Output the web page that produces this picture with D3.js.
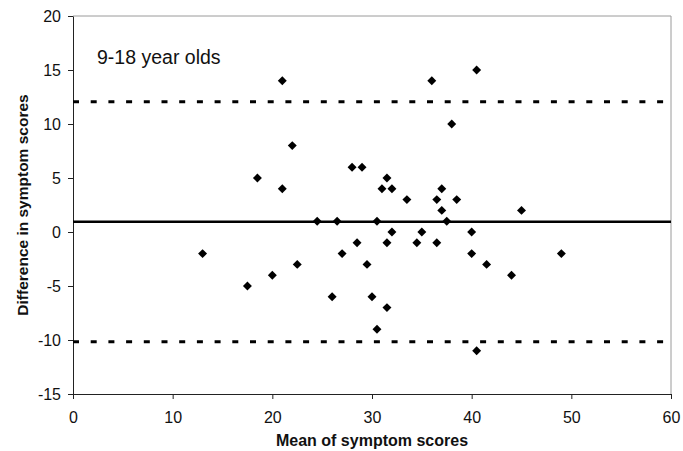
<!DOCTYPE html>
<html>
<head>
<meta charset="utf-8">
<script src="https://cdn.jsdelivr.net/npm/d3@7"></script>
<style>
  html, body { margin: 0; padding: 0; background: #fff; }
  svg { display: block; font-family: "Liberation Sans", Arial, sans-serif; }
</style>
</head>
<body>
<svg id="chart" width="683" height="451"></svg>
<script>
// mean of the two scores (x) and their difference (y), one per child
const meanScores = [13, 17.5, 18.5, 20, 21, 21, 22, 22.5, 24.5, 26, 26.5, 27, 28, 28.5, 29,
                    29.5, 30, 30.5, 30.5, 31, 31.5, 31.5, 31.5, 32, 32, 33.5, 34.5, 35, 36,
                    36.5, 36.5, 37, 37, 37.5, 38, 38.5, 40, 40, 40.5, 40.5, 41.5, 44, 45, 49]
const diffScores = [-2, -5, 5, -4, 14, 4, 8, -3, 1, -6, 1, -2, 6, -1, 6,
                    -3, -6, 1, -9, 4, 5, -1, -7, 4, 0, 3, -1, 0, 14,
                    3, -1, 4, 2, 1, 10, 3, 0, -2, 15, -11, -3, -4, 2, -2]

// mean difference and limits of agreement
const meanDiff = 0.95
const limits = [12.07, -10.17]

const xTicks = [0, 10, 20, 30, 40, 50, 60]
const yTicks = [20, 15, 10, 5, 0, -5, -10, -15]

const plotLeft = 73, plotRight = 671, plotTop = 16, plotBottom = 394

const svg = d3.select("#chart")

const x = d3.scaleLinear().domain([0, 60]).range([plotLeft, plotRight])
const y = d3.scaleLinear().domain([-15, 20]).range([plotBottom, plotTop])

// light frame on top and right
svg.append("path")
   .attr("d", `M${plotLeft},${plotTop}H${plotRight}V${plotBottom}`)
   .attr("fill", "none")
   .attr("stroke", "#9a9a9a")
   .attr("stroke-width", 1)

// axes (plain hyphen for negatives, like the original)
const plain = d => String(d)
const xAxis = svg.append("g")
   .attr("transform", `translate(0,${plotBottom})`)
   .call(d3.axisBottom(x).tickValues(xTicks).tickFormat(plain).tickSize(5).tickPadding(13).tickSizeOuter(0))
const yAxis = svg.append("g")
   .attr("transform", `translate(${plotLeft},0)`)
   .call(d3.axisLeft(y).tickValues(yTicks).tickFormat(plain).tickSize(5).tickPadding(7).tickSizeOuter(0))

;[xAxis, yAxis].forEach(g => {
	g.select(".domain").attr("stroke", "#222").attr("stroke-width", 1)
	g.selectAll(".tick line").attr("stroke", "#222")
	g.selectAll(".tick text")
	 .attr("fill", "#111")
	 .style("font-size", "16px")
	 .style("font-family", "Liberation Sans, Arial, sans-serif")
})

// reference lines
svg.append("line")
   .attr("x1", x(0)).attr("x2", x(60))
   .attr("y1", y(meanDiff)).attr("y2", y(meanDiff))
   .attr("stroke", "#000")
   .attr("stroke-width", 2.5)

svg.selectAll(".limit")
   .data(limits)
   .join("line")
   .attr("class", "limit")
   .attr("x1", x(0)).attr("x2", x(60))
   .attr("y1", d => y(d)).attr("y2", d => y(d))
   .attr("stroke", "#000")
   .attr("stroke-width", 3)
   .attr("stroke-dasharray", "6,11.7")

// points as diamonds
const diamond = d3.symbol().type(d3.symbolSquare).size(40)
svg.selectAll(".pt")
   .data(d3.zip(meanScores, diffScores))
   .join("path")
   .attr("class", "pt")
   .attr("d", diamond)
   .attr("transform", d => `translate(${x(d[0])},${y(d[1])}) rotate(45)`)
   .attr("fill", "#000")

// panel label
svg.append("text")
   .attr("x", 97)
   .attr("y", 64)
   .style("font-size", "19.5px")
   .attr("fill", "#111")
   .text("9-18 year olds")

// axis titles
svg.append("text")
   .attr("x", (plotLeft + plotRight) / 2)
   .attr("y", 446)
   .attr("text-anchor", "middle")
   .style("font-size", "16px")
   .style("font-weight", "bold")
   .attr("fill", "#111")
   .text("Mean of symptom scores")

svg.append("text")
   .attr("transform", `translate(28,${(plotTop + plotBottom) / 2}) rotate(-90)`)
   .attr("text-anchor", "middle")
   .style("font-size", "15.5px")
   .style("font-weight", "bold")
   .attr("fill", "#111")
   .text("Difference in symptom scores")
</script>
</body>
</html>
